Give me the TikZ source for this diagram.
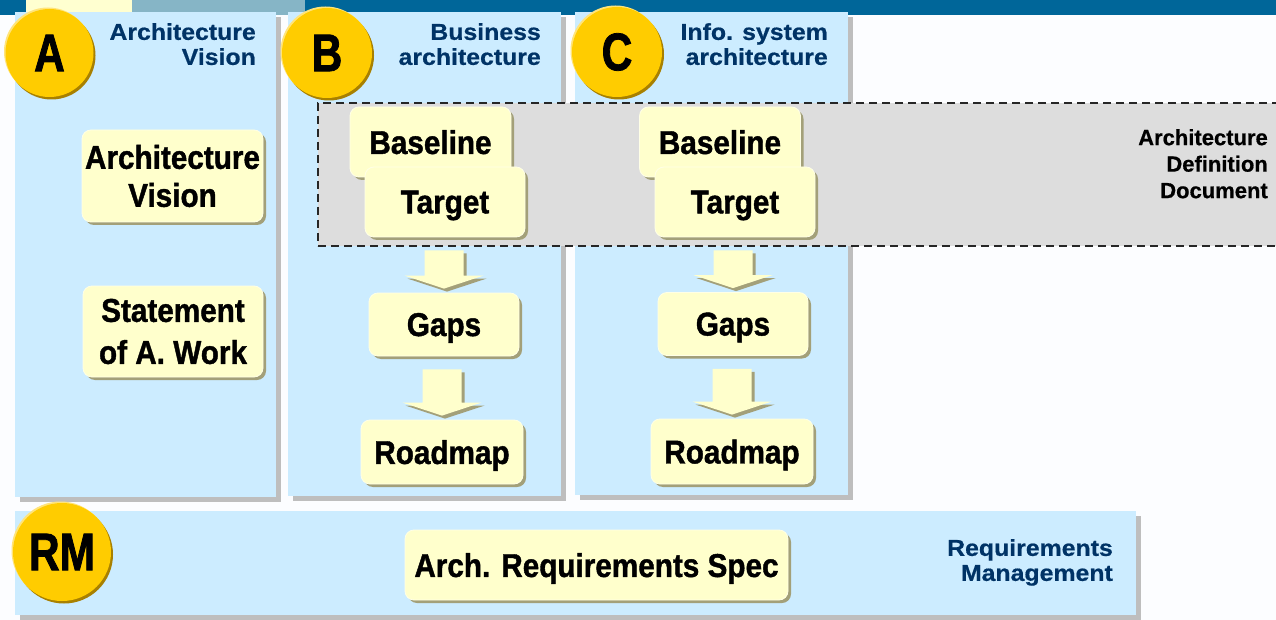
\documentclass[tikz,border=0pt]{standalone}
\usepackage{fontspec}
\setmainfont{Liberation Sans}
\newfontfamily\condfont{Liberation Sans}[FakeStretch=0.8,FakeBold=1.5]
\newfontfamily\titlefont{Liberation Sans}[FakeStretch=1.08,FakeBold=0.6]
\newfontfamily\boxfont{Liberation Sans}[FakeStretch=0.9,FakeBold=1.2]
\newfontfamily\addfont{Liberation Sans}[FakeBold=0.6]
\usetikzlibrary{shadows,calc}
\definecolor{bg}{HTML}{FCFDFF}
\definecolor{barblue}{HTML}{006699}
\definecolor{baryellow}{HTML}{FFFFD0}
\definecolor{bargray}{HTML}{86B5C6}
\definecolor{panelblue}{HTML}{CCECFF}
\definecolor{panelshadow}{HTML}{BEBEBE}
\definecolor{boxfill}{HTML}{FFFFCC}
\definecolor{boxedge}{HTML}{FFFFE6}
\definecolor{boxshadow}{HTML}{A3A079}
\definecolor{titleblue}{HTML}{003366}
\definecolor{gold}{HTML}{FFCC00}
\definecolor{golddark}{HTML}{A88000}
\definecolor{goldlight}{HTML}{FFE47A}
\definecolor{addgray}{HTML}{DDDDDD}
\tikzset{
  panel/.style={anchor=north west, fill=panelblue, inner sep=0pt, outer sep=0pt,
    drop shadow={shadow xshift=5pt, shadow yshift=-5pt, fill=panelshadow, opacity=1}},
  docbox/.style={fill=boxfill, draw=boxedge, line width=0.8pt, rounded corners=9pt,
    inner sep=0pt, align=center, font=\boxfont\bfseries\fontsize{33}{38}\selectfont,
    drop shadow={shadow xshift=3pt, shadow yshift=-3pt, fill=boxshadow, opacity=1}},
  oneline/.style={text depth=0pt},
  blockarr/.style={fill=boxfill,
    drop shadow={shadow xshift=3pt, shadow yshift=-3pt, fill=boxshadow, opacity=1}},
  phasetitle/.style={anchor=north east, inner sep=0pt, align=right, text=titleblue,
    font=\titlefont\bfseries\fontsize{23}{25}\selectfont},
  phaseletter/.style={circle, fill=gold, inner sep=0pt,
    font=\condfont\bfseries\fontsize{53}{53}\selectfont},
  addbox/.style={anchor=north west, inner sep=0pt, outer sep=0pt, fill=addgray,
    draw=black!85, line width=1.6pt, dash pattern=on 8pt off 5pt},
}
\newcommand\phasedisc[5]{%
  \fill[golddark] (#2+2,#3+2.5) circle (#5);
  \fill[goldlight] (#2-1.5,#3-1.5) circle (#5);
  \node[phaseletter, minimum size={2*#5pt}] (#1) at (#2,#3) {#4};}
\newcommand\blockarrow[2]{%
  \fill[blockarr] let \p1=($(#1.south)+(0,13)$), \p2=($(#2.north)+(0,-4)$) in
    (\x2-19.5pt,\y1) -- (\x2+19.5pt,\y1) -- (\x2+19.5pt,\y2+13pt) -- (\x2+39.5pt,\y2+13pt)
    -- (\x2,\y2) -- (\x2-39.5pt,\y2+13pt) -- (\x2-19.5pt,\y2+13pt) -- cycle;}
\begin{document}
\begin{tikzpicture}[x=1pt,y=-1pt]
\useasboundingbox (0,0) rectangle (1276,620);
\fill[bg] (0,0) rectangle (1276,620);
% top bar
\fill[barblue] (0,0) rectangle (1276,15);
\fill[baryellow] (26,0) rectangle (132,15);
\fill[bargray] (132,0) rectangle (305,15);
% panels
\node[panel, minimum width=261pt, minimum height=485pt] (pA) at (15,12) {};
\node[panel, minimum width=273pt, minimum height=484pt] (pB) at (288,12) {};
\node[panel, minimum width=273pt, minimum height=483pt] (pC) at (575,12) {};
\node[panel, minimum width=1121pt, minimum height=104pt] (pRM) at (15,511) {};
% architecture definition document area
\node[addbox, minimum width=962pt, minimum height=143pt] (addArea) at (318,103) {};
\node[anchor=north east, inner sep=0pt, align=right,
  font=\addfont\bfseries\fontsize{22}{26.5}\selectfont] (addLabel) at (1268,129)
  {Architecture\\Definition\\Document};
% titles
\node[phasetitle] (tA) at (256,23) {Architecture\\Vision};
\node[phasetitle] (tB) at (541,23) {Business\\architecture};
\node[phasetitle] (tC) at (828,23) {Info. system\\architecture};
\node[phasetitle] (tRM) at (1113,539) {Requirements\\Management};
% phase discs
\phasedisc{cA}{49.5}{53}{A}{44}
\phasedisc{cB}{327}{53}{B}{45}
\phasedisc{cC}{617}{52}{C}{45}
\phasedisc{cRM}{62}{552}{RM}{49}
% documents
\node[docbox, minimum width=181pt, minimum height=92pt] (av) at (172.5,176) {Architecture\\Vision};
\node[docbox, minimum width=180pt, minimum height=91pt, font=\boxfont\bfseries\fontsize{33}{42}\selectfont] (saw) at (173,331.5) {Statement\\of A. Work};
\node[docbox, oneline, minimum width=161pt, minimum height=70pt] (bBase) at (430.5,142) {Baseline};
\node[docbox, oneline, minimum width=160pt, minimum height=70pt] (bTarget) at (445,202) {Target};
\node[docbox, oneline, minimum width=150pt, minimum height=63pt] (bGaps) at (444,324.5) {Gaps};
\node[docbox, oneline, minimum width=162pt, minimum height=64pt] (bRoad) at (442,452) {Roadmap};
\node[docbox, oneline, minimum width=161pt, minimum height=70pt] (cBase) at (720,142) {Baseline};
\node[docbox, oneline, minimum width=160pt, minimum height=70pt] (cTarget) at (735,202) {Target};
\node[docbox, oneline, minimum width=150pt, minimum height=63pt] (cGaps) at (733,324) {Gaps};
\node[docbox, oneline, minimum width=162pt, minimum height=65pt] (cRoad) at (732,451.5) {Roadmap};
\node[docbox, oneline, minimum width=383pt, minimum height=70pt] (ars) at (596.5,565) {Arch. Requirements Spec};
% block arrows
\blockarrow{bTarget}{bGaps}
\blockarrow{bGaps}{bRoad}
\blockarrow{cTarget}{cGaps}
\blockarrow{cGaps}{cRoad}
\end{tikzpicture}
\end{document}
